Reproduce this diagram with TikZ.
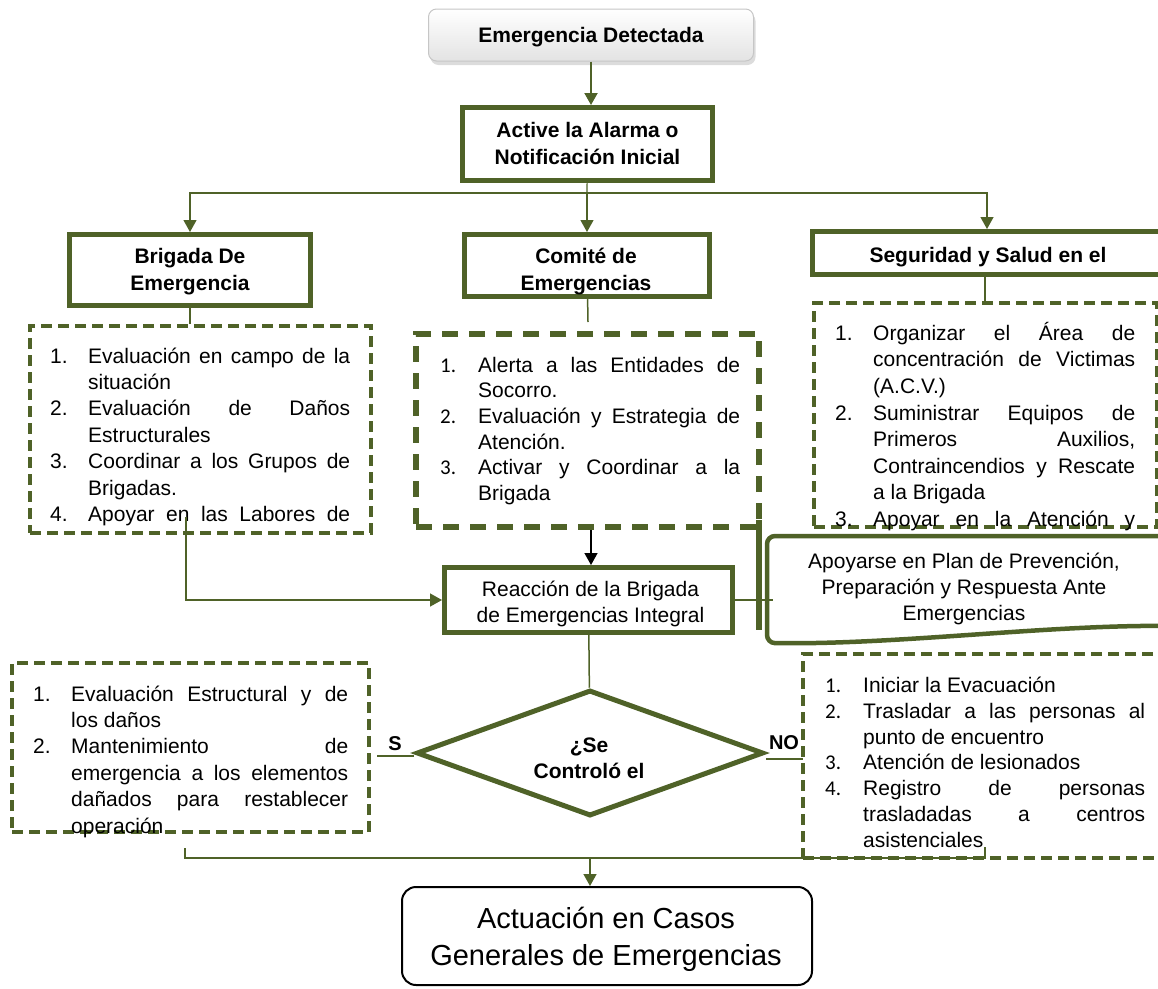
\documentclass[tikz,border=0pt]{standalone}
\usepackage{fontspec}
\setmainfont{Liberation Sans}
\newfontfamily\calib{Carlito}
\usepackage{xcolor}
\usepackage{tikz}
\usetikzlibrary{arrows.meta,shapes.geometric,shadows,positioning}

\definecolor{olivo}{HTML}{4F6228}

\newlength{\fitemind}
\setlength{\fitemind}{38pt}
\newcommand{\fitem}[2]{\par\hangindent=\fitemind\hangafter=1\noindent\strut\makebox[\fitemind][l]{#1}#2\par}
\newcommand{\fitemj}[2]{\par\hangindent=\fitemind\hangafter=1\noindent\strut\makebox[\fitemind][l]{#1}#2{\parfillskip=0pt\par}}
\newcommand{\listfont}{\fontsize{21}{26.4}\selectfont\frenchspacing\spaceskip=0.278em plus 2em minus 0.03em%
    \hyphenpenalty=10000\exhyphenpenalty=10000\tolerance=9999}

\tikzset{
    topbox/.style={draw=gray!45, line width=1pt, rounded corners=8pt, top color=white, bottom color=gray!22,
        drop shadow={shadow xshift=2pt, shadow yshift=-4pt, fill=gray!55}, inner sep=0pt},
    titlebox/.style={draw=olivo, line width=5pt, fill=white, inner sep=0pt},
    titletxt/.style={anchor=north, align=center, inner sep=0pt, font=\bfseries\fontsize{21}{27}\selectfont},
    plaintxt/.style={anchor=north, align=center, inner sep=0pt, font=\fontsize{21}{26}\selectfont},
    dashbox/.style={draw=olivo, line width=3.5pt, dash pattern=on 11pt off 6pt, inner sep=0pt},
    listtxt/.style={inner sep=0pt, anchor=north west, align=justify, font=\listfont},
    link/.style={draw=olivo, line width=1.5pt},
    arrowlink/.style={link, -{Triangle[width=13pt,length=12pt]}},
    lbl/.style={inner sep=0pt, font=\bfseries\fontsize{20}{24}\selectfont}
}

\begin{document}
\begin{tikzpicture}[x=1pt, y=-1pt]
    \useasboundingbox (0,0) rectangle (1158,988);

    % top of the chart
    \node [topbox, minimum width=325pt, minimum height=52pt] (det) at (591,35) {};
    \node [titletxt] (detTxt) at (591,23.1) {\strut Emergencia Detectada};
    \node [titlebox, minimum width=250pt, minimum height=73pt] (act) at (587.5,144) {};
    \node [titletxt] (actTxt) at (587.5,118.1) {\strut Active la Alarma o\\Notificación Inicial};

    \node [titlebox, minimum width=241pt, minimum height=71pt] (brig) at (190,270) {};
    \node [titletxt] (brigTxt) at (190,244.1) {\strut Brigada De\\Emergencia};
    \node [titlebox, minimum width=245pt, minimum height=62pt] (comi) at (587,265.5) {};
    \node [titletxt] (comiTxt) at (586,244.1) {\strut Comité de\\Emergencias};
    \node [titlebox, minimum width=350pt, minimum height=43pt] (segu) at (987,253) {};
    \node [titletxt] (seguTxt) at (988,243.1) {\strut Seguridad y Salud en el};

    \draw [arrowlink, line width=2pt] (det.south) -- (det.south |- act.north);
    \coordinate (split) at (587,193);
    \draw [link, line width=1.2pt] (act) -- (split);
    \draw [arrowlink, line width=1.2pt] (split) -| (brig);
    \draw [arrowlink, line width=1.2pt] (split) -- (comi);
    \draw [arrowlink, line width=1.2pt] (split) -| (segu);

    % task lists
    \node [dashbox, minimum width=341pt, minimum height=207pt] (lstA) at (200.5,429.5) {};
    \node [dashbox, line width=5.5pt, dash pattern=on 16pt off 11pt, minimum width=343pt, minimum height=193pt] (lstB) at (587.5,430.5) {};
    \node [dashbox, minimum width=343pt, minimum height=224pt] (lstC) at (985.5,415) {};

    \node [listtxt, text width=300pt] (txtA) at (50,336.5) {%
        \fitem{1.}{Evaluación en campo de la situación}
        \fitem{2.}{Evaluación de Daños Estructurales}
        \fitem{3.}{Coordinar a los Grupos de Brigadas.}
        \fitemj{4.}{Apoyar en las Labores de}};
    \node [listtxt, text width=300pt, font=\listfont\fontsize{21}{25.6}\selectfont] (txtB) at (440,346.5) {%
        \fitem{\calib 1.}{Alerta a las Entidades de Socorro.}
        \fitem{\calib 2.}{Evaluación y Estrategia de Atención.}
        \fitem{\calib 3.}{Activar y Coordinar a la Brigada}};
    \node [listtxt, text width=300pt, font=\listfont\fontsize{21}{26.6}\selectfont] (txtC) at (835,313.5) {%
        \fitem{1.}{Organizar el Área de concentración de Victimas (A.C.V.)}
        \fitem{2.}{Suministrar Equipos de\linebreak Primeros Auxilios,\linebreak Contraincendios y Rescate a la Brigada}
        \fitemj{3.}{Apoyar en la Atención y}};

    \draw [link] (brig.south) -- (brig.south |- lstA.north);
    \coordinate (comiEnd) at (588,322);
    \draw [link] (comi) -- (comiEnd);
    \draw [link] (segu.south -| 985,0) -- (lstC.north -| 985,0);
    \draw [olivo, line width=5.5pt] (759,520) -- (759,630);

    % reaction
    \node [titlebox, minimum width=288pt, minimum height=65pt] (reac) at (588.5,600) {};
    \node [plaintxt, font=\fontsize{21}{26}\selectfont] (reacTxt) at (590.5,577.8) {\strut Reacción de la Brigada\\de Emergencias Integral};
    \draw [-{Triangle[width=13pt,length=12pt]}, black, line width=1.5pt] (lstB.south -| 591,0) -- (reac.north -| 591,0);
    \coordinate (feedA) at (186,517);
    \draw [arrowlink] (feedA) |- (reac);

    \draw [olivo, line width=4.5pt, rounded corners=8pt, fill=white] (1175,536) -- (767,536) -- (767,643) .. controls (900,645) and (1050,624) .. (1175,626);
    \node [plaintxt] (plan) at (964,549.8) {\strut Apoyarse en Plan de Prevención,\\Preparación y Respuesta Ante\\Emergencias};
    \coordinate (planIn) at (773,600);
    \draw [link] (reac) -- (planIn);

    % decision
    \node [diamond, aspect=2.75, draw=olivo, line width=5pt, minimum width=347pt, minimum height=126pt, inner sep=0pt] (ctrl) at (590,753) {};
    \node [titletxt, font=\bfseries\fontsize{21}{26}\selectfont] (ctrlTxt) at (589,733.8) {\strut ¿Se\\Controló el};
    \draw [link] (reac) -- (ctrl);

    \coordinate (yesEnd) at (377,756);
    \draw [link, line width=2pt] (yesEnd -| ctrl.west) -- (yesEnd);
    \node [lbl] (yesLbl) at (395,744) {S};
    \coordinate (noEnd) at (803,759);
    \draw [link] (noEnd -| ctrl.east) -- (noEnd);
    \node [lbl] (noLbl) at (784,743) {NO};

    \node [dashbox, minimum width=357pt, minimum height=169pt] (lstS) at (190.5,747.5) {};
    \node [dashbox, minimum width=362pt, minimum height=204pt] (lstN) at (984,756) {};
    \node [listtxt, text width=315pt] (txtS) at (33,674.5) {%
        \fitem{1.}{Evaluación Estructural y de los daños}
        \fitem{2.}{Mantenimiento de emergencia a los elementos dañados para restablecer operación}};
    \node [listtxt, text width=320pt, font=\listfont\fontsize{21}{25.8}\selectfont] (txtN) at (825,666.5) {%
        \fitem{\calib 1.}{Iniciar la Evacuación}
        \fitem{\calib 2.}{Trasladar a las personas al punto de encuentro}
        \fitem{\calib 3.}{Atención de lesionados}
        \fitem{\calib 4.}{Registro de personas trasladadas a centros asistenciales}};

    % end of the chart
    \node [draw=black, line width=2pt, rounded corners=14pt, minimum width=410pt, minimum height=98pt, inner sep=0pt] (fin) at (607,936) {};
    \node [plaintxt, font=\fontsize{29}{37}\selectfont] (finTxt) at (606,902.1) {\strut Actuación en Casos\\Generales de Emergencias};
    \coordinate (mergeL) at (185,848);
    \coordinate (mergeR) at (985,847);
    \coordinate (merge) at (590,858);
    \draw [link, line width=1.2pt] (mergeL) |- (mergeR |- merge) -- (mergeR);
    \draw [arrowlink] (merge) -- (merge |- fin.north);
\end{tikzpicture}
\end{document}
